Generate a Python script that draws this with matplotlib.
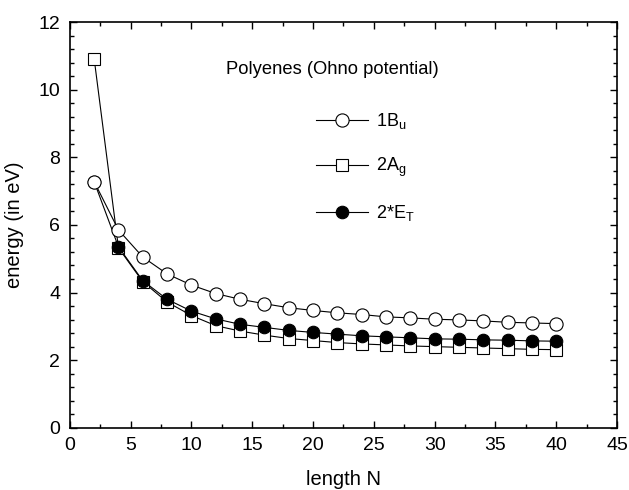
import matplotlib
matplotlib.use("Agg")
import matplotlib.pyplot as plt
from matplotlib.ticker import MultipleLocator

plt.rcParams['font.family'] = ['Liberation Sans', 'DejaVu Sans']
plt.rcParams['mathtext.fontset'] = 'custom'
plt.rcParams['mathtext.rm'] = 'Liberation Sans'
plt.rcParams['mathtext.it'] = 'Liberation Sans'

N = [2, 4, 6, 8, 10, 12, 14, 16, 18, 20, 22, 24, 26, 28, 30, 32, 34, 36, 38, 40]
bu_1 = [7.28, 5.85, 5.05, 4.55, 4.22, 3.97, 3.80, 3.67, 3.55, 3.47,
        3.40, 3.35, 3.28, 3.25, 3.21, 3.19, 3.16, 3.12, 3.10, 3.08]
ag_2 = [10.92, 5.32, 4.32, 3.72, 3.32, 3.02, 2.86, 2.74, 2.64, 2.58,
        2.52, 2.48, 2.45, 2.42, 2.40, 2.38, 2.36, 2.34, 2.32, 2.31]
et_2 = [7.28, 5.35, 4.35, 3.80, 3.45, 3.22, 3.06, 2.97, 2.88, 2.82,
        2.77, 2.72, 2.69, 2.66, 2.63, 2.62, 2.60, 2.59, 2.57, 2.56]

fig = plt.figure(figsize=(6.29, 4.9), dpi=100)
ax = fig.add_axes([0.111, 0.127, 0.870, 0.828])

ax.plot(N, et_2, '-o', color='black', mfc='black', mec='black', ms=9, lw=0.8, mew=0.8,
        label=r'2*E$_\mathregular{T}$', zorder=2)
ax.plot(N, ag_2, '-s', color='black', mfc='white', mec='black', ms=8.5, lw=0.8, mew=0.8,
        label=r'2A$_\mathregular{g}$', zorder=1)
ax.plot(N, bu_1, '-o', color='black', mfc='white', mec='black', ms=9.5, lw=0.8, mew=0.8,
        label=r'1B$_\mathregular{u}$', zorder=3)

ax.set_xlim(0, 45)
ax.set_ylim(0, 12)
ax.xaxis.set_major_locator(MultipleLocator(5))
ax.xaxis.set_minor_locator(MultipleLocator(2.5))
ax.yaxis.set_major_locator(MultipleLocator(2))
ax.yaxis.set_minor_locator(MultipleLocator(0.4))
ax.tick_params(which='both', direction='in', top=True, right=True, labelsize=14)
ax.tick_params(which='major', length=5, width=1)
ax.tick_params(which='minor', length=3, width=1)
ax.tick_params(axis='x', pad=7)
ax.tick_params(axis='y', pad=7)
for s in ax.spines.values():
    s.set_linewidth(1.2)

ax.set_xlabel('length N', fontsize=14.5, labelpad=11)
ax.set_ylabel('energy (in eV)', fontsize=14.5, labelpad=10)

ax.text(0.285, 0.882, 'Polyenes (Ohno potential)', transform=ax.transAxes,
        fontsize=13.2, ha='left', va='center')

handles, labels = ax.get_legend_handles_labels()
order = [2, 1, 0]
ax.legend([handles[i] for i in order], [labels[i] for i in order],
          loc='upper left', bbox_to_anchor=(0.45, 0.78), frameon=False,
          fontsize=13, handlelength=2.9, handletextpad=0.4, labelspacing=1.35,
          borderpad=0, borderaxespad=0)

plt.savefig("out.png", dpi=100)
